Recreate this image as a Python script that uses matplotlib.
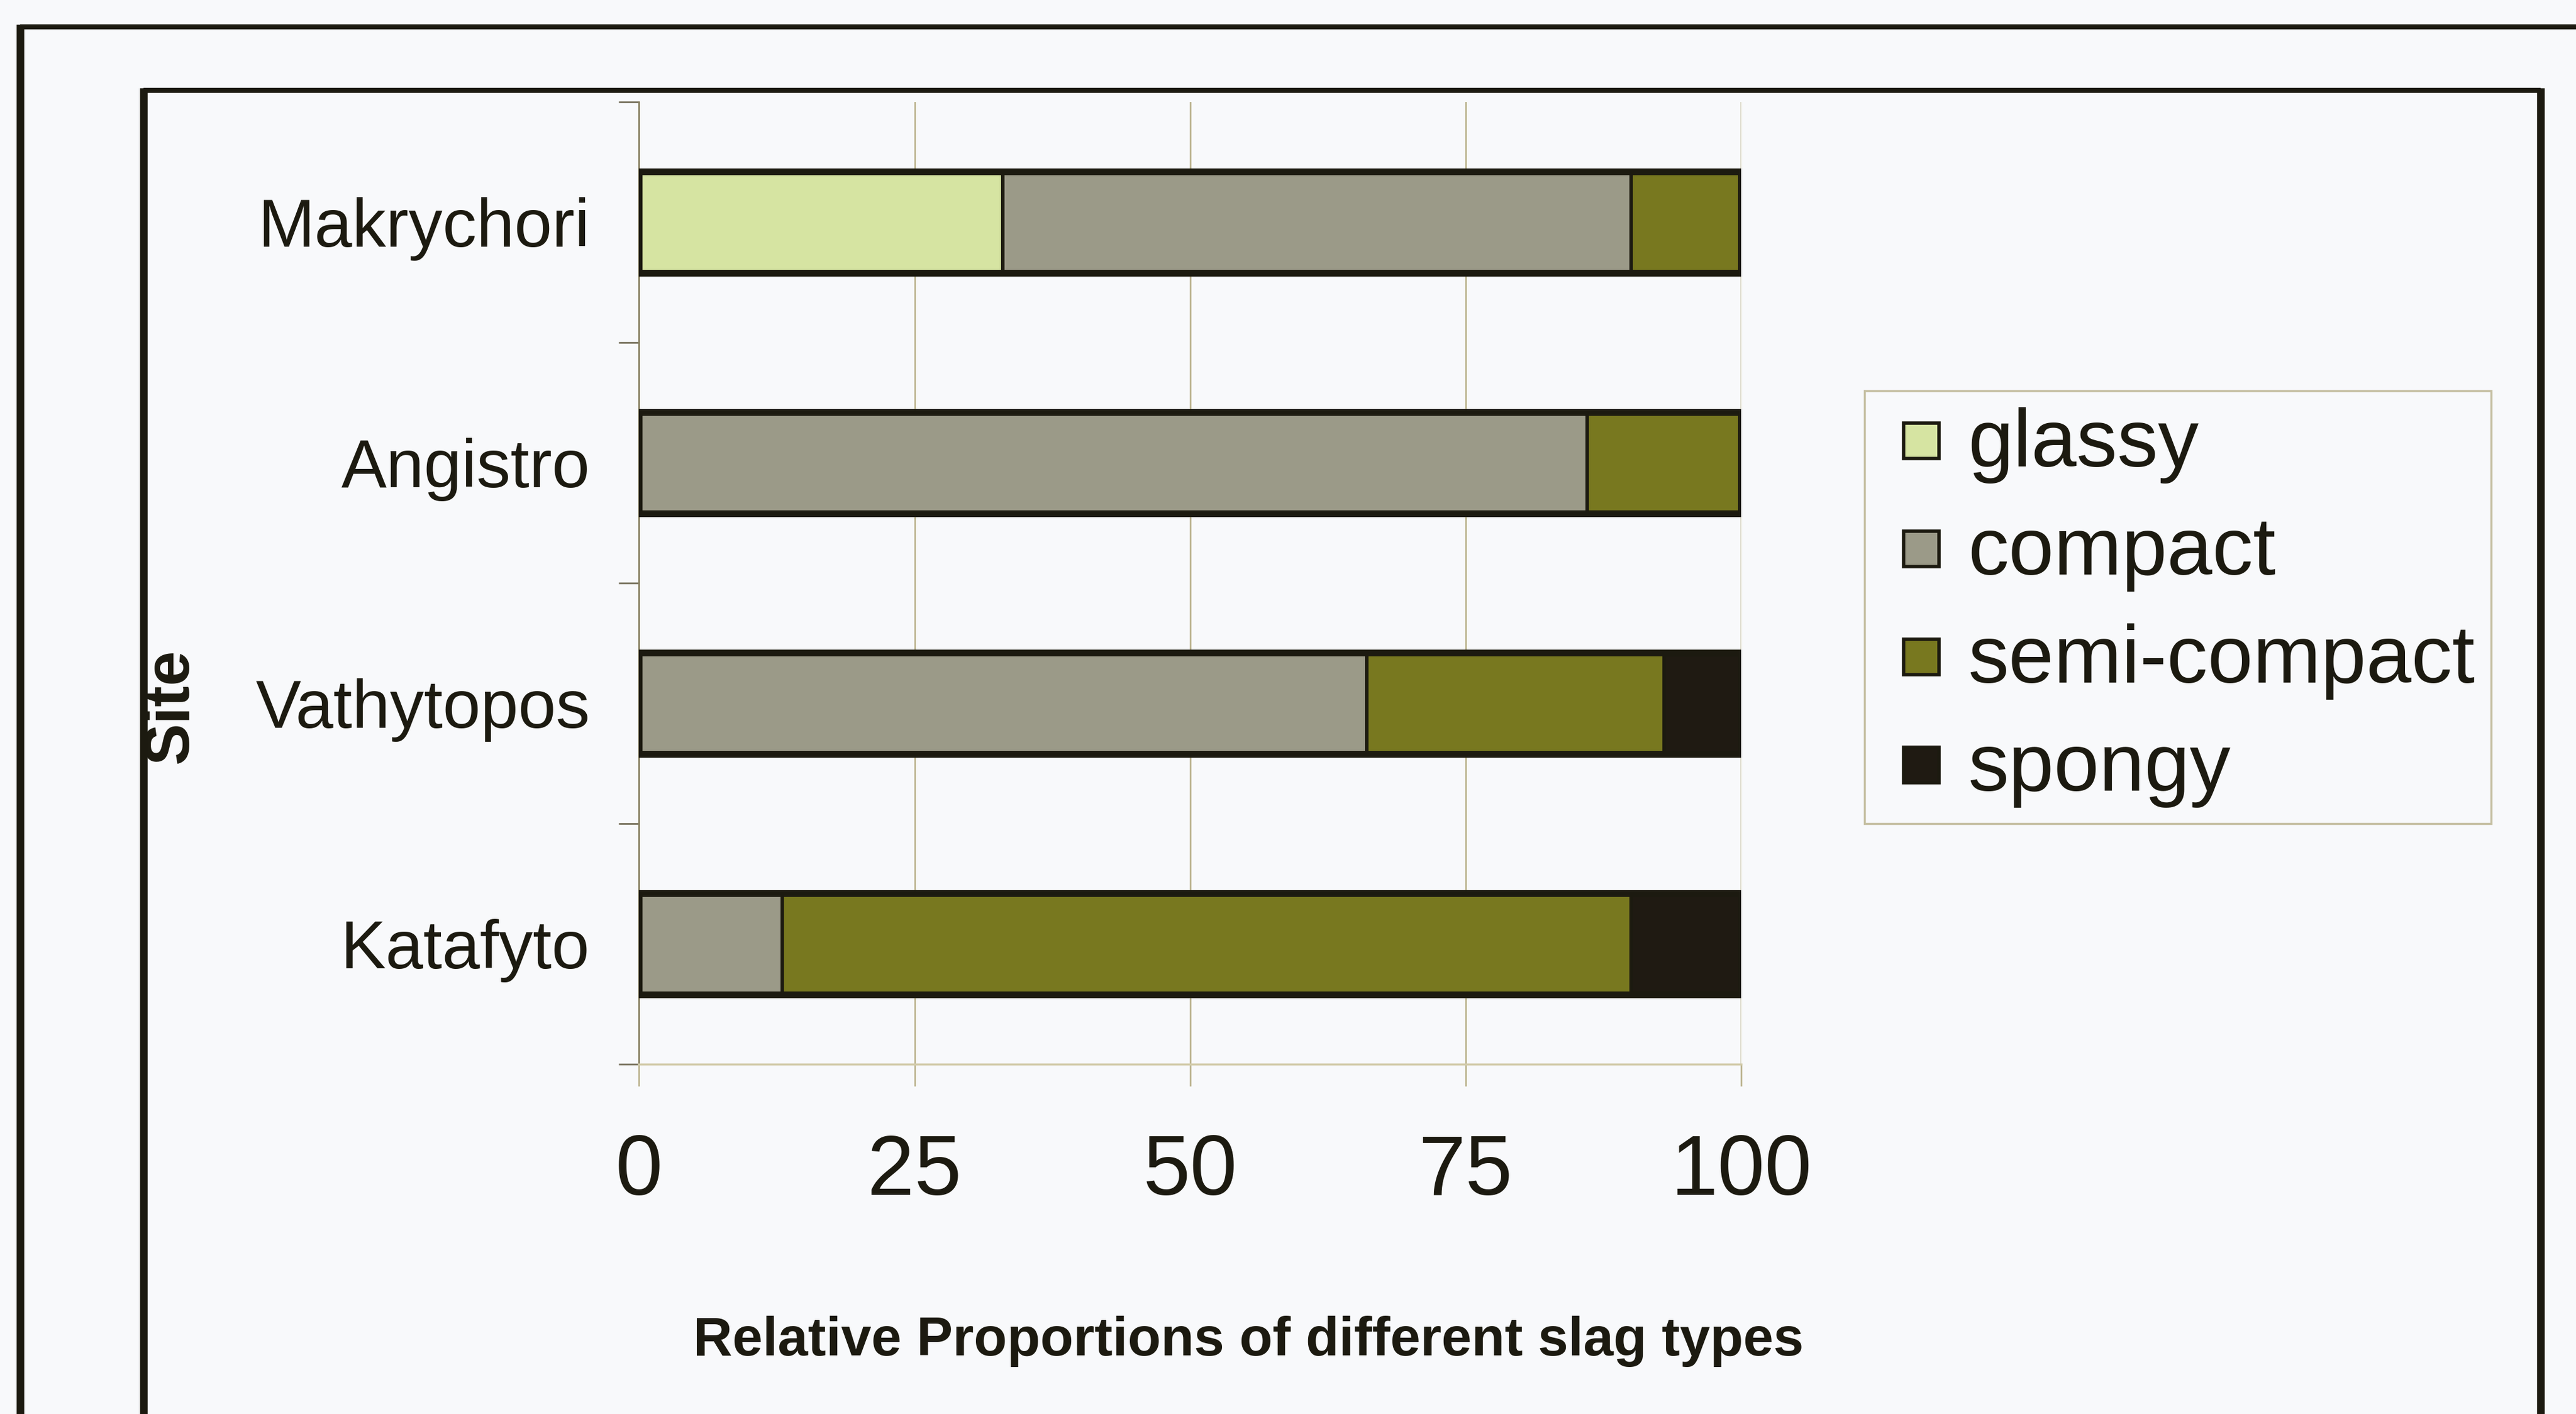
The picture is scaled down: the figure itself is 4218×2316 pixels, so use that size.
import numpy as np
import matplotlib.pyplot as plt
from matplotlib.lines import Line2D

plt.rcParams['font.family'] = ['Liberation Sans', 'DejaVu Sans']

sites = ['Makrychori', 'Angistro', 'Vathytopos', 'Katafyto']
glassy = [33, 0, 0, 0]
compact = [57, 86, 66, 13]
semi_compact = [10, 14, 27, 77]
spongy = [0, 0, 7, 10]
xticks = [0, 25, 50, 75, 100]

series = [('glassy', glassy, '#d6e4a2'),
          ('compact', compact, '#9b9a88'),
          ('semi-compact', semi_compact, '#78781f'),
          ('spongy', spongy, '#1f1a12')]

ink = '#1c1a10'
grid_col = '#b8af88'
bg = '#f8f9fb'

fig = plt.figure(figsize=(42.18, 23.16), dpi=100, facecolor=bg)
ax = fig.add_axes([0.2481, 0.2474, 0.4279, 0.6806], facecolor=bg)

y = np.arange(len(sites))
left = np.zeros(len(sites))
for name, vals, col in series:
    ax.barh(y, vals, left=left, height=0.42, color=col, edgecolor=ink,
            linewidth=4, zorder=3)
    left += np.array(vals)
# heavier outline round each whole bar
ax.barh(y, left, height=0.42, fill=False, edgecolor=ink, linewidth=8, zorder=4)

ax.set_xlim(0, 100)
ax.set_ylim(-0.5, len(sites) - 0.5)
ax.invert_yaxis()

ax.set_xticks(xticks)
ax.set_xticklabels([str(t) for t in xticks])
ax.set_yticks(y)
ax.set_yticklabels(sites)
ax.set_yticks(np.arange(-0.5, len(sites)), minor=True)

ax.grid(axis='x', color=grid_col, linewidth=1.8, zorder=0)
ax.tick_params(axis='x', direction='out', length=26, width=1.8, color=grid_col,
               pad=55, labelsize=100, labelcolor=ink)
ax.tick_params(axis='y', which='major', length=0, pad=58, labelsize=80, labelcolor=ink)
ax.tick_params(axis='y', which='minor', direction='out', length=24, width=2,
               color='#7a7460')

for side in ['top', 'right']:
    ax.spines[side].set_visible(False)
ax.spines['left'].set_color('#8a8264')
ax.spines['left'].set_linewidth(2)
ax.spines['bottom'].set_color('#d2cbaa')
ax.spines['bottom'].set_linewidth(2.5)

fig.text(0.0664, 0.5004, 'Site', rotation=90, ha='center', va='center',
         fontsize=74, fontweight='bold', color=ink)
fig.text(0.4846, 0.0514, 'Relative Proportions of different slag types',
         ha='center', va='center', fontsize=64, fontweight='bold', color=ink)

# square legend keys
handles = [Line2D([], [], linestyle='none', marker='s', markersize=42,
                  markerfacecolor=col, markeredgecolor=ink, markeredgewidth=4)
           for _, _, col in series]
labels = [name for name, _, _ in series]
leg = ax.legend(handles, labels, loc='upper left',
                bbox_to_anchor=(0.7238, 0.7237),
                bbox_transform=fig.transFigure, fontsize=96, frameon=True,
                fancybox=False, handlelength=1.0, handleheight=0.45,
                handletextpad=0.07, labelspacing=0.39, borderpad=0.2,
                borderaxespad=0)
leg.get_frame().set_edgecolor('#b9b18c')
leg.get_frame().set_linewidth(2.5)
leg.get_frame().set_facecolor(bg)
for t in leg.get_texts():
    t.set_color(ink)

# page border and chart border
W, H = 4218, 2316
def fline(x0, y0, x1, y1, lw):
    fig.add_artist(Line2D([x0 / W, x1 / W], [1 - y0 / H, 1 - y1 / H],
                          transform=fig.transFigure, color=ink, linewidth=lw,
                          solid_capstyle='butt'))

fline(33, 44, W, 44, 6)
fline(33, 40, 33, H, 9)
fline(235, 148, 4160, 148, 6)
fline(235, 144, 235, H, 9)
fline(4160, 144, 4160, H, 9)

fig.savefig('out.png', dpi=100, facecolor=bg)
